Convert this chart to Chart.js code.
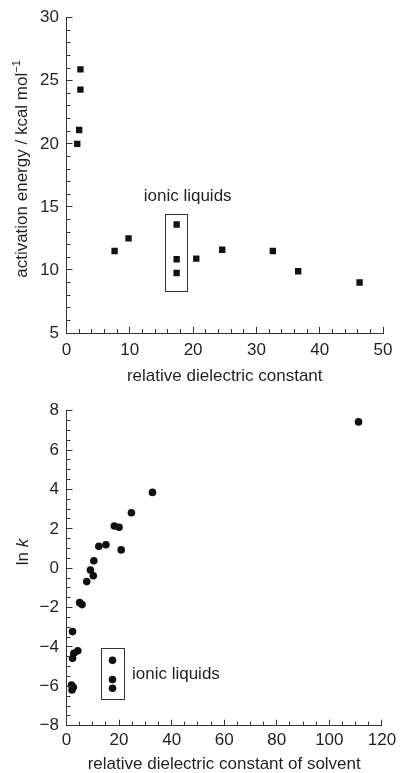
<!DOCTYPE html>
<html>
<head>
<meta charset="utf-8">
<script src="https://cdn.jsdelivr.net/npm/chart.js@4.4.1/dist/chart.umd.min.js"></script>
<style>
  html, body { margin: 0; padding: 0; background: #ffffff; }
  #wrap { position: relative; width: 401px; height: 773px; overflow: hidden; }
  canvas { position: absolute; left: 0; }
  #eaChart { top: 0; }
  #lnkChart { top: 390px; }
</style>
</head>
<body>
<div id="wrap">
  <canvas id="eaChart" width="401" height="390"></canvas>
  <canvas id="lnkChart" width="401" height="383"></canvas>
</div>
<script>
// ---- Activation energy vs. relative dielectric constant ----
const eaSolventEps = [1.7, 2.0, 2.2, 2.2, 7.6, 9.8, 20.5, 24.6, 32.6, 36.6, 46.3];
const eaSolventVal = [20.0, 21.1, 24.3, 25.9, 11.5, 12.5, 10.9, 11.6, 11.5, 9.9, 9.0];
const eaIonicEps = [17.4, 17.4, 17.4];
const eaIonicVal = [13.6, 10.85, 9.76];
const eaXTicks = [0, 10, 20, 30, 40, 50];
const eaYTicks = [5, 10, 15, 20, 25, 30];
// ionic-liquid group frame in data units: [xMin, xMax, yMin, yMax]
const eaIonicFrame = [15.6, 19.0, 8.36, 14.45];
const eaIonicLabelAt = [12.2, 15.8];

// ---- ln k vs. relative dielectric constant of solvent ----
const lnkSolventEps = [111.1, 32.7, 24.7, 18.2, 20.0, 20.8, 12.3, 15.0, 10.4, 9.1, 10.2, 7.7,
                       5.0, 5.9, 2.3, 4.3, 2.8, 2.3, 1.9, 2.6, 2.1];
const lnkSolventVal = [7.43, 3.85, 2.82, 2.14, 2.08, 0.93, 1.11, 1.19, 0.38, -0.09, -0.38, -0.68,
                       -1.75, -1.85, -3.22, -4.19, -4.32, -4.58, -5.93, -6.05, -6.19];
const lnkIonicEps = [17.5, 17.5, 17.5];
const lnkIonicVal = [-4.68, -5.65, -6.10];
const lnkXTicks = [0, 20, 40, 60, 80, 100, 120];
const lnkYTicks = [-8, -6, -4, -2, 0, 2, 4, 6, 8];
const lnkIonicFrame = [13.2, 21.8, -6.63, -4.04];
const lnkIonicLabelAt = [24.9, -5.39];

const FONT = '"Liberation Sans", Arial, Helvetica, sans-serif';
const INK = '#231f20';
const AXIS = '#333333';
const MARK = '#111111';

function toPoints(xs, ys) { return xs.map((x, i) => ({ x: x, y: ys[i] })); }
function minusSign(v) { return String(v).replace('-', '\u2212'); }

// inward major/minor tick marks, the grouping frame, its label and a rich y-axis title
const decorations = {
  id: 'decorations',
  afterDatasetsDraw(chart, args, o) {
    const { ctx, chartArea: a, scales: { x, y } } = chart;
    ctx.save();
    ctx.strokeStyle = AXIS;
    ctx.lineWidth = 1;
    ctx.beginPath();
    const isMajor = (v, ticks) => ticks.some(t => Math.abs(t - v) < 1e-6);
    for (let v = x.min; v <= x.max + 1e-6; v += o.xMinor) {
      const px = Math.round(x.getPixelForValue(v) - 0.5) + 0.5;
      const len = isMajor(v, o.xTicks) ? 6 : 4;
      ctx.moveTo(px, a.bottom);
      ctx.lineTo(px, a.bottom - len);
    }
    for (let v = y.min; v <= y.max + 1e-6; v += o.yMinor) {
      const py = Math.round(y.getPixelForValue(v) - 0.5) + 0.5;
      const len = isMajor(v, o.yTicks) ? 6 : 4;
      ctx.moveTo(a.left, py);
      ctx.lineTo(a.left + len, py);
    }
    ctx.stroke();

    // frame around the ionic-liquid points
    const f = o.frame;
    const fx0 = Math.round(x.getPixelForValue(f[0])) + 0.5;
    const fx1 = Math.round(x.getPixelForValue(f[1])) + 0.5;
    const fy0 = Math.round(y.getPixelForValue(f[3])) + 0.5;
    const fy1 = Math.round(y.getPixelForValue(f[2])) + 0.5;
    ctx.strokeStyle = AXIS;
    ctx.strokeRect(fx0, fy0, fx1 - fx0, fy1 - fy0);

    ctx.fillStyle = INK;
    ctx.font = '17px ' + FONT;
    ctx.textAlign = 'left';
    ctx.textBaseline = 'middle';
    ctx.fillText('ionic liquids', x.getPixelForValue(o.labelAt[0]), y.getPixelForValue(o.labelAt[1]));

    // rotated y-axis title made of several runs
    const parts = o.yTitle.parts;
    let total = 0;
    parts.forEach(p => { ctx.font = p.font; p.w = ctx.measureText(p.text).width; total += p.w; });
    ctx.translate(o.yTitle.x, o.yTitle.y);
    ctx.rotate(-Math.PI / 2);
    ctx.textAlign = 'left';
    ctx.textBaseline = 'alphabetic';
    let cx = -total / 2;
    parts.forEach(p => {
      ctx.font = p.font;
      ctx.fillText(p.text, cx, p.dy || 0);
      cx += p.w;
    });
    ctx.restore();
  }
};

function scatterChart(canvasId, cfg) {
  const ds = (xs, ys) => ({
    data: toPoints(xs, ys),
    pointStyle: cfg.pointStyle,
    pointRadius: cfg.pointRadius,
    pointHoverRadius: cfg.pointRadius,
    backgroundColor: MARK,
    borderWidth: 0,
    showLine: false
  });
  const tickFont = { family: FONT, size: 17, lineHeight: 1.2 };
  return new Chart(document.getElementById(canvasId), {
    type: 'scatter',
    data: { datasets: [ds(cfg.sx, cfg.sy), ds(cfg.ix, cfg.iy)] },
    options: {
      responsive: false,
      animation: false,
      devicePixelRatio: 1,
      layout: { padding: cfg.padding },
      plugins: {
        legend: { display: false },
        tooltip: { enabled: false },
        decorations: cfg.deco
      },
      scales: {
        x: {
          type: 'linear',
          min: cfg.xTicks[0],
          max: cfg.xTicks[cfg.xTicks.length - 1],
          afterBuildTicks: s => { s.ticks = cfg.xTicks.map(v => ({ value: v })); },
          afterFit: s => { s.height = cfg.xHeight; },
          grid: { display: true, drawOnChartArea: false, drawTicks: false },
          border: { display: true, color: AXIS, width: 1 },
          ticks: { color: INK, font: tickFont, padding: cfg.xTickPad, maxRotation: 0, callback: minusSign },
          title: {
            display: true, text: cfg.xTitle, color: INK,
            font: { family: FONT, size: 17, lineHeight: 1 },
            padding: { top: 0, bottom: cfg.xTitlePad }
          }
        },
        y: {
          type: 'linear',
          min: cfg.yTicks[0],
          max: cfg.yTicks[cfg.yTicks.length - 1],
          afterBuildTicks: s => { s.ticks = cfg.yTicks.map(v => ({ value: v })); },
          afterFit: s => { s.width = 66.5; },
          grid: { display: true, drawOnChartArea: false, drawTicks: false },
          border: { display: true, color: AXIS, width: 1 },
          ticks: { color: INK, font: tickFont, padding: 7.5, callback: minusSign },
          title: { display: false }
        }
      }
    },
    plugins: [decorations]
  });
}

scatterChart('eaChart', {
  sx: eaSolventEps, sy: eaSolventVal, ix: eaIonicEps, iy: eaIonicVal,
  xTicks: eaXTicks, yTicks: eaYTicks,
  pointStyle: 'rect', pointRadius: 4.5,
  padding: { top: 17, right: 18, bottom: 0, left: 0 },
  xHeight: 57, xTickPad: 7.6, xTitlePad: 5.5,
  xTitle: 'relative dielectric constant',
  deco: {
    xMinor: 2, yMinor: 1, xTicks: eaXTicks, yTicks: eaYTicks,
    frame: eaIonicFrame, labelAt: eaIonicLabelAt,
    yTitle: {
      x: 27, y: 169,
      parts: [
        { text: 'activation energy / kcal mol', font: '17px ' + FONT },
        { text: '\u22121', font: '11px ' + FONT, dy: -7 }
      ]
    }
  }
});

scatterChart('lnkChart', {
  sx: lnkSolventEps, sy: lnkSolventVal, ix: lnkIonicEps, iy: lnkIonicVal,
  xTicks: lnkXTicks, yTicks: lnkYTicks,
  pointStyle: 'circle', pointRadius: 3.8,
  padding: { top: 20.7, right: 16.7, bottom: 0, left: 0 },
  xHeight: 47.3, xTickPad: 4.9, xTitlePad: 0.5,
  xTitle: 'relative dielectric constant of solvent',
  deco: {
    xMinor: 5, yMinor: 0.5, xTicks: lnkXTicks, yTicks: lnkYTicks,
    frame: lnkIonicFrame, labelAt: lnkIonicLabelAt,
    yTitle: {
      x: 27.5, y: 162,
      parts: [
        { text: 'ln ', font: '17px ' + FONT },
        { text: 'k', font: 'italic 17px ' + FONT }
      ]
    }
  }
});
</script>
</body>
</html>
